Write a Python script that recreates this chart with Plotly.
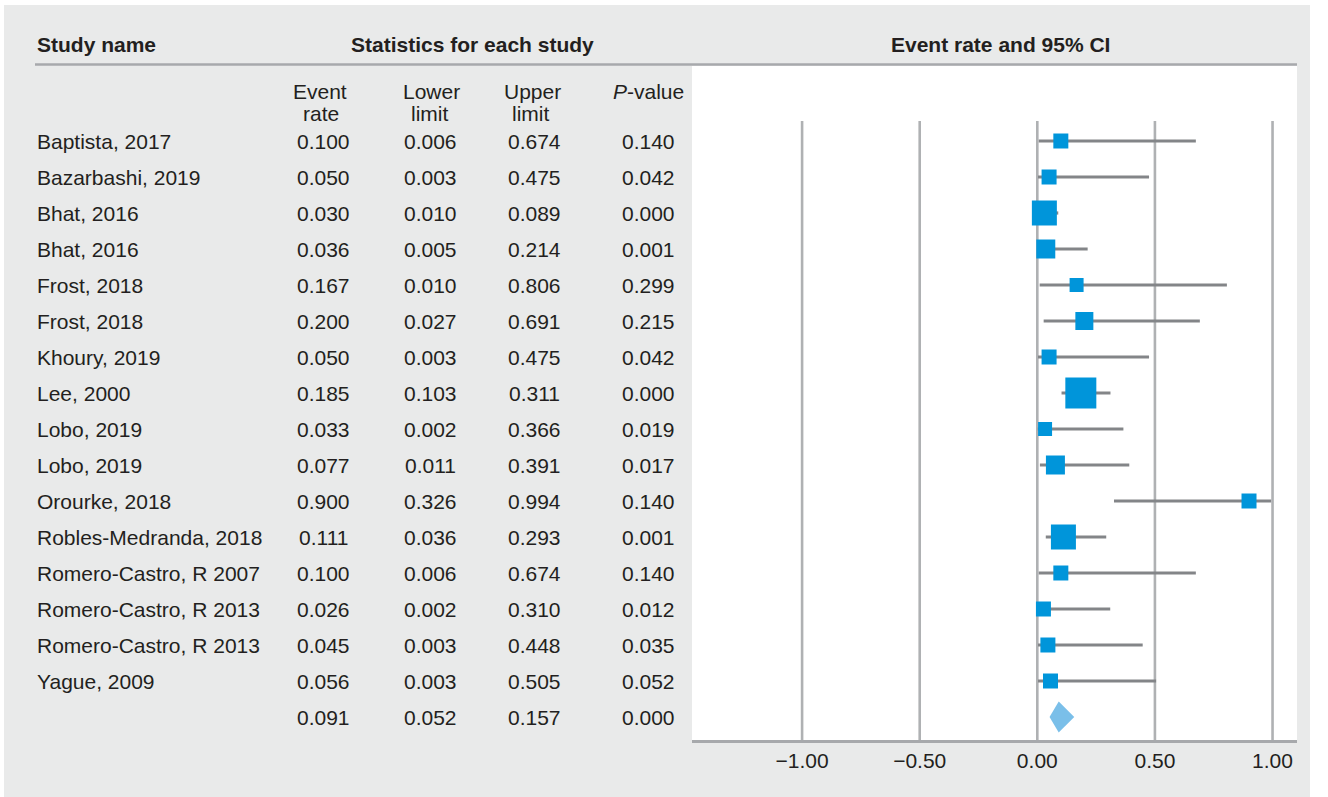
import plotly.graph_objects as go

# ---- study data -------------------------------------------------------------
studies = [
    "Baptista, 2017", "Bazarbashi, 2019", "Bhat, 2016", "Bhat, 2016",
    "Frost, 2018", "Frost, 2018", "Khoury, 2019", "Lee, 2000",
    "Lobo, 2019", "Lobo, 2019", "Orourke, 2018", "Robles-Medranda, 2018",
    "Romero-Castro, R 2007", "Romero-Castro, R 2013", "Romero-Castro, R 2013",
    "Yague, 2009",
]
event_rate = [0.100, 0.050, 0.030, 0.036, 0.167, 0.200, 0.050, 0.185,
              0.033, 0.077, 0.900, 0.111, 0.100, 0.026, 0.045, 0.056]
lower_limit = [0.006, 0.003, 0.010, 0.005, 0.010, 0.027, 0.003, 0.103,
               0.002, 0.011, 0.326, 0.036, 0.006, 0.002, 0.003, 0.003]
upper_limit = [0.674, 0.475, 0.089, 0.214, 0.806, 0.691, 0.475, 0.311,
               0.366, 0.391, 0.994, 0.293, 0.674, 0.310, 0.448, 0.505]
p_value = [0.140, 0.042, 0.000, 0.001, 0.299, 0.215, 0.042, 0.000,
           0.019, 0.017, 0.140, 0.001, 0.140, 0.012, 0.035, 0.052]
# relative study weight, shown as the square's side in px
weight_px = [15, 15, 25, 19, 14, 18, 15, 31, 14, 19, 15, 25, 15, 15, 15, 15]

# pooled estimate
pooled = dict(rate=0.091, lower=0.052, upper=0.157, p=0.000)

tick_vals = [-1.0, -0.5, 0.0, 0.5, 1.0]

# ---- layout geometry (pixels) -----------------------------------------------
W, H = 1328, 797
L, R, T, B = 692, 1297, 66, 740          # plot area box
ROW0, ROW_H = 141, 36                     # first row centre, row pitch
X_RANGE = [-1.468, 1.104]
y_top = (T - ROW0) / ROW_H
y_bot = (B - ROW0) / ROW_H

TEXT = "#231f20"
BLUE = "#0095da"
DIAMOND = "#7abfe9"
CI_GREY = "#838588"
GRID = "#afb1b3"
PANEL = "#e9eaea"
FONT = "Liberation Sans, Arial, sans-serif"


def xp(px):
    return (px - L) / (R - L)


def yp(py):
    return (B - py) / (B - T)


fig = go.Figure()

# confidence interval whiskers
ci_x, ci_y = [], []
for i, (lo, hi) in enumerate(zip(lower_limit, upper_limit)):
    ci_x += [lo, hi, None]
    ci_y += [i, i, None]
fig.add_trace(go.Scatter(x=ci_x, y=ci_y, mode="lines",
                         line=dict(color=CI_GREY, width=3.2),
                         hoverinfo="skip", showlegend=False))

# study point estimates
fig.add_trace(go.Scatter(x=event_rate, y=list(range(len(studies))), mode="markers",
                         marker=dict(symbol="square", size=weight_px, color=BLUE,
                                     opacity=1, line=dict(width=0)),
                         showlegend=False))

# pooled diamond
pr = len(studies)
half_h = 15.5 / ROW_H
fig.add_trace(go.Scatter(
    x=[pooled["lower"], pooled["rate"], pooled["upper"], pooled["rate"], pooled["lower"]],
    y=[pr, pr - half_h, pr, pr + half_h, pr],
    mode="lines", fill="toself", fillcolor=DIAMOND, line=dict(width=0, color=DIAMOND),
    showlegend=False, hoverinfo="skip"))

shapes = [
    # grey panel and the white plotting box
    dict(type="rect", xref="paper", yref="paper", x0=xp(4), x1=xp(1310), y0=yp(797), y1=yp(5),
         fillcolor=PANEL, line=dict(width=0), layer="below"),
    dict(type="rect", xref="paper", yref="paper", x0=0, x1=1, y0=0, y1=1,
         fillcolor="white", line=dict(width=0), layer="below"),
    # header rule
    dict(type="line", xref="paper", yref="paper", x0=xp(35), x1=1, y0=yp(64.5), y1=yp(64.5),
         line=dict(color="#a7a9ac", width=2.5)),
]
# vertical reference lines at the ticks
for v in tick_vals:
    shapes.append(dict(type="line", xref="x", yref="y", x0=v, x1=v,
                       y0=(121 - ROW0) / ROW_H, y1=y_bot,
                       line=dict(color=GRID, width=2.6), layer="below"))

annotations = []


def txt(s, x, y, xanchor="center", bold=False, yref="y"):
    annotations.append(dict(text=f"<b>{s}</b>" if bold else s, x=x, y=y,
                            xref="paper", yref=yref, xanchor=xanchor, yanchor="middle",
                            showarrow=False, font=dict(family=FONT, size=21, color=TEXT)))


# column headers
txt("Study name", xp(35), yp(44), xanchor="left", bold=True, yref="paper")
txt("Statistics for each study", xp(472), yp(44), bold=True, yref="paper")
txt("Event rate and 95% CI", xp(1000), yp(44), bold=True, yref="paper")
for label, cx in [("Event", 320), ("Lower", 431), ("Upper", 532)]:
    txt(label, xp(cx), yp(91), yref="paper")
for label, cx in [("rate", 321), ("limit", 429), ("limit", 530)]:
    txt(label, xp(cx), yp(113), yref="paper")
txt("<i>P</i>-value", xp(648), yp(91), yref="paper")

# table body
for i, name in enumerate(studies):
    txt(name, xp(35), i, xanchor="left")
    txt(f"{event_rate[i]:.3f}", xp(323), i)
    txt(f"{lower_limit[i]:.3f}", xp(430), i)
    txt(f"{upper_limit[i]:.3f}", xp(534), i)
    txt(f"{p_value[i]:.3f}", xp(648), i)
txt(f"{pooled['rate']:.3f}", xp(323), pr)
txt(f"{pooled['lower']:.3f}", xp(430), pr)
txt(f"{pooled['upper']:.3f}", xp(534), pr)
txt(f"{pooled['p']:.3f}", xp(648), pr)

fig.update_layout(
    width=W, height=H,
    margin=dict(l=L, r=W - R, t=T, b=H - B, pad=0),
    paper_bgcolor="white", plot_bgcolor="white",
    shapes=shapes, annotations=annotations,
    xaxis=dict(range=X_RANGE, tickvals=tick_vals, tickformat=".2f",
               showgrid=False, zeroline=False, showline=True, linecolor="#a7a9ac",
               linewidth=2.5, ticks="", ticklen=0,
               tickfont=dict(family=FONT, size=21, color=TEXT)),
    yaxis=dict(range=[y_bot, y_top], showgrid=False, zeroline=False,
               showticklabels=False, showline=False, ticks=""),
    font=dict(family=FONT, color=TEXT),
)

fig.write_html("out.html")
